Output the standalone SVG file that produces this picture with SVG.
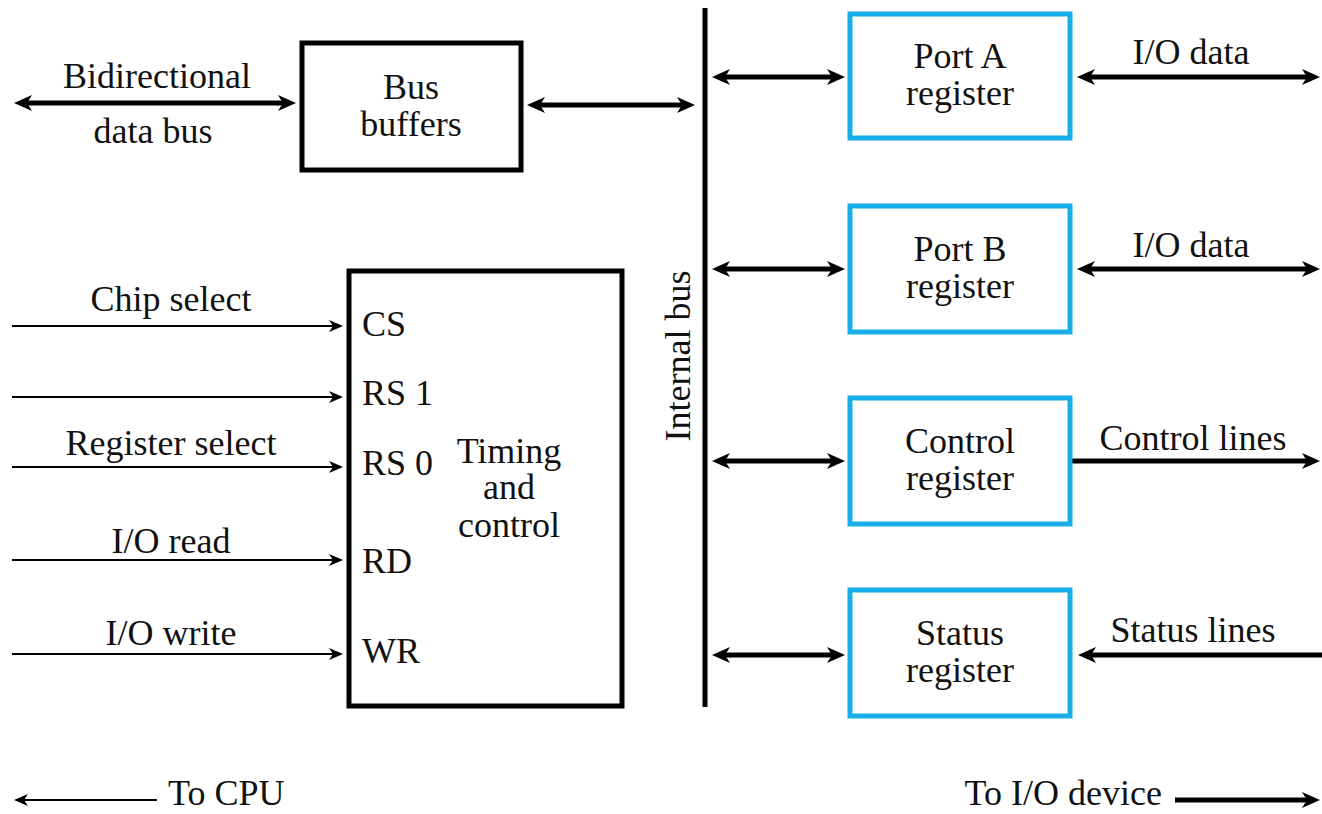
<svg xmlns="http://www.w3.org/2000/svg" width="1322" height="814" viewBox="0 0 1322 814">
<style>
text{font-family:"Liberation Serif","Times New Roman",serif;font-size:36px;fill:#111}
.c{text-anchor:middle}
.box{fill:none;stroke:#000;stroke-width:5}
.reg{fill:#fff;stroke:#19AEEA;stroke-width:5}
.thick{stroke:#000;stroke-width:5;fill:none}
.thin{stroke:#000;stroke-width:2;fill:none}
</style>
<defs>
<marker id="ah" markerUnits="userSpaceOnUse" markerWidth="18" markerHeight="16" refX="11" refY="8" orient="auto-start-reverse" viewBox="0 0 18 16">
<path d="M0,0 L18,8 L0,16 L5,8 z" fill="#000"/>
</marker>
<marker id="at" markerUnits="userSpaceOnUse" markerWidth="14" markerHeight="12" refX="8" refY="6" orient="auto-start-reverse" viewBox="0 0 14 12">
<path d="M0,0 L14,6 L0,12 L4,6 z" fill="#000"/>
</marker>
</defs>

<g id="connectors">
<line class="thick" x1="21" y1="103" x2="289" y2="103" marker-start="url(#ah)" marker-end="url(#ah)"/>
<line class="thick" x1="534" y1="105" x2="688" y2="105" marker-start="url(#ah)" marker-end="url(#ah)"/>
<line class="thick" x1="719" y1="77" x2="838" y2="77" marker-start="url(#ah)" marker-end="url(#ah)"/>
<line class="thick" x1="719" y1="269" x2="838" y2="269" marker-start="url(#ah)" marker-end="url(#ah)"/>
<line class="thick" x1="719" y1="461" x2="838" y2="461" marker-start="url(#ah)" marker-end="url(#ah)"/>
<line class="thick" x1="719" y1="655" x2="838" y2="655" marker-start="url(#ah)" marker-end="url(#ah)"/>
<line class="thick" x1="1084" y1="77" x2="1313" y2="77" marker-start="url(#ah)" marker-end="url(#ah)"/>
<line class="thick" x1="1084" y1="269" x2="1313" y2="269" marker-start="url(#ah)" marker-end="url(#ah)"/>
<line class="thick" x1="1072" y1="461" x2="1313" y2="461" marker-end="url(#ah)"/>
<line class="thick" x1="1322" y1="655" x2="1085" y2="655" marker-end="url(#ah)"/>
<line class="thick" x1="1175" y1="800" x2="1313" y2="800" marker-end="url(#ah)"/>
<line class="thin" x1="12" y1="326" x2="337" y2="326" marker-end="url(#at)"/>
<line class="thin" x1="12" y1="397" x2="337" y2="397" marker-end="url(#at)"/>
<line class="thin" x1="12" y1="467" x2="337" y2="467" marker-end="url(#at)"/>
<line class="thin" x1="12" y1="560" x2="337" y2="560" marker-end="url(#at)"/>
<line class="thin" x1="12" y1="654" x2="337" y2="654" marker-end="url(#at)"/>
<line class="thin" x1="157" y1="800" x2="20" y2="800" marker-end="url(#at)"/>
</g>

<g id="internal-bus">
<line x1="705" y1="8" x2="705" y2="707" stroke="#000" stroke-width="5"/>
<text class="c" transform="translate(690,356) rotate(-90)">Internal bus</text>
</g>

<g id="bus-buffers">
<rect class="box" x="302" y="43" width="219" height="127"/>
<text class="c" x="411" y="99">Bus</text>
<text class="c" x="411" y="136">buffers</text>
</g>

<g id="timing-control">
<rect class="box" x="349" y="271" width="273" height="435"/>
<text x="362" y="336">CS</text>
<text x="362" y="405">RS 1</text>
<text x="362" y="475">RS 0</text>
<text x="362" y="573">RD</text>
<text x="362" y="663">WR</text>
<text class="c" x="509" y="463">Timing</text>
<text class="c" x="509" y="499">and</text>
<text class="c" x="509" y="537">control</text>
</g>

<g id="port-a">
<rect class="reg" x="850" y="14" width="220" height="124"/>
<text class="c" x="960" y="68">Port A</text>
<text class="c" x="960" y="105">register</text>
</g>
<g id="port-b">
<rect class="reg" x="850" y="206" width="220" height="126"/>
<text class="c" x="960" y="261">Port B</text>
<text class="c" x="960" y="298">register</text>
</g>
<g id="control-register">
<rect class="reg" x="850" y="398" width="220" height="126"/>
<text class="c" x="960" y="453">Control</text>
<text class="c" x="960" y="490">register</text>
</g>
<g id="status-register">
<rect class="reg" x="850" y="590" width="220" height="126"/>
<text class="c" x="960" y="645">Status</text>
<text class="c" x="960" y="682">register</text>
</g>

<g id="labels">
<text class="c" x="157" y="88">Bidirectional</text>
<text class="c" x="153" y="143">data bus</text>
<text class="c" x="1191" y="64">I/O data</text>
<text class="c" x="1191" y="257">I/O data</text>
<text class="c" x="1193" y="450">Control lines</text>
<text class="c" x="1193" y="642">Status lines</text>
<text class="c" x="171" y="311">Chip select</text>
<text class="c" x="171" y="455">Register select</text>
<text class="c" x="171" y="553">I/O read</text>
<text class="c" x="171" y="645">I/O write</text>
<text x="168" y="805">To CPU</text>
<text x="1162" y="805" text-anchor="end">To I/O device</text>
</g>
</svg>
